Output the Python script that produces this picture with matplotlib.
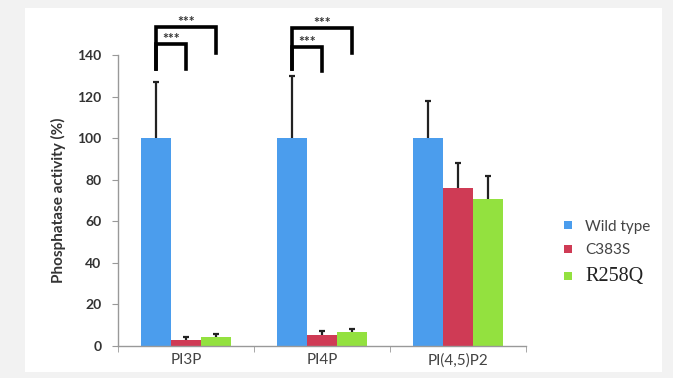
import numpy as np
import matplotlib
matplotlib.use("Agg")
import matplotlib.pyplot as plt
from matplotlib.patches import Rectangle

# data
categories = ["PI3P", "PI4P", "PI(4,5)P2"]
series = ["Wild type", "C383S", "R258Q"]
wild_type = [100, 100, 100]
c383s = [3, 5.5, 76]
r258q = [4.5, 6.5, 71]
wild_err = [27, 30, 18]
c383s_err = [1.5, 1.5, 12]
r258q_err = [1.5, 1.5, 11]
colors = ["#4b9ded", "#cf3b55", "#93e13f"]

# significance brackets: (category, bar index left, bar index right, height, leg bottoms)
brackets = [
    (0, 0, 1, 145.5, (133.5, 133.5)),
    (0, 0, 2, 153.5, (133.5, 141)),
    (1, 0, 1, 144, (133.5, 132.5)),
    (1, 0, 2, 153, (133.5, 141)),
]

plt.rcParams["font.family"] = ["Lato", "DejaVu Sans"]

fig = plt.figure(figsize=(6.73, 3.78), dpi=100, facecolor="#f2f2f2")
# white panel like the pasted slide
fig.patches.append(Rectangle((25 / 673, 6 / 378), 637 / 673, 364 / 378,
                             transform=fig.transFigure, facecolor="white",
                             edgecolor="none", zorder=-10))

ax = fig.add_axes([0.1753, 0.0847, 0.606, 0.769])
ax.set_facecolor("white")

x = np.arange(len(categories))
w = 0.22
vals = [wild_type, c383s, r258q]
errs = [wild_err, c383s_err, r258q_err]
for i in range(3):
    pos = x + (i - 1) * w
    ax.bar(pos, vals[i], w, color=colors[i], label=series[i], zorder=2)
    eb = ax.errorbar(pos, vals[i], yerr=[np.zeros(3), errs[i]], fmt="none",
                     ecolor="#222222", elinewidth=1.6, capsize=2, capthick=1.6, zorder=3)
    eb[1][0].set_visible(False)  # no cap at the bar top

for cat, a, b, h, (la, lb) in brackets:
    xa = cat + (a - 1) * w
    xb = cat + (b - 1) * w
    ax.plot([xa, xa, xb, xb], [la, h, h, lb], color="black", lw=2.6,
            clip_on=False, solid_joinstyle="miter", zorder=4)
    ax.text((xa + xb) / 2, h - 0.3, "***", ha="center", va="bottom",
            fontsize=10, fontweight="bold", color="#333333", clip_on=False)

ax.set_xlim(-0.5, 2.5)
ax.set_ylim(0, 140)
ax.set_yticks(range(0, 141, 20))
ax.set_xticks(x)
ax.set_xticklabels(categories, fontsize=11, color="#444444")
ax.set_xticks([-0.5, 0.5, 1.5, 2.5], minor=True)
ax.tick_params(axis="x", which="major", length=0, pad=5)
ax.tick_params(axis="x", which="minor", length=4, color="#999999")
ax.tick_params(axis="y", length=4, color="#999999", labelsize=10, pad=8)
for t in ax.get_yticklabels():
    t.set_fontweight("bold")
    t.set_color("#333333")
ax.set_ylabel("Phosphatase activity (%)", fontsize=11, fontweight="bold",
              color="#333333", labelpad=8)
for s in ["top", "right"]:
    ax.spines[s].set_visible(False)
for s in ["left", "bottom"]:
    ax.spines[s].set_color("#999999")
    ax.spines[s].set_linewidth(1)

leg = ax.legend(loc="center left", bbox_to_anchor=(1.06, 0.32), frameon=False,
                fontsize=11, handlelength=0.5, handleheight=0.5,
                handletextpad=0.9, labelspacing=0.65)
for t in leg.get_texts():
    t.set_color("#444444")
leg.get_texts()[2].set_family(["Liberation Serif", "DejaVu Serif"])
leg.get_texts()[2].set_fontsize(14.5)
leg.get_texts()[2].set_color("#222222")

fig.savefig("out.png", dpi=100, facecolor=fig.get_facecolor())
